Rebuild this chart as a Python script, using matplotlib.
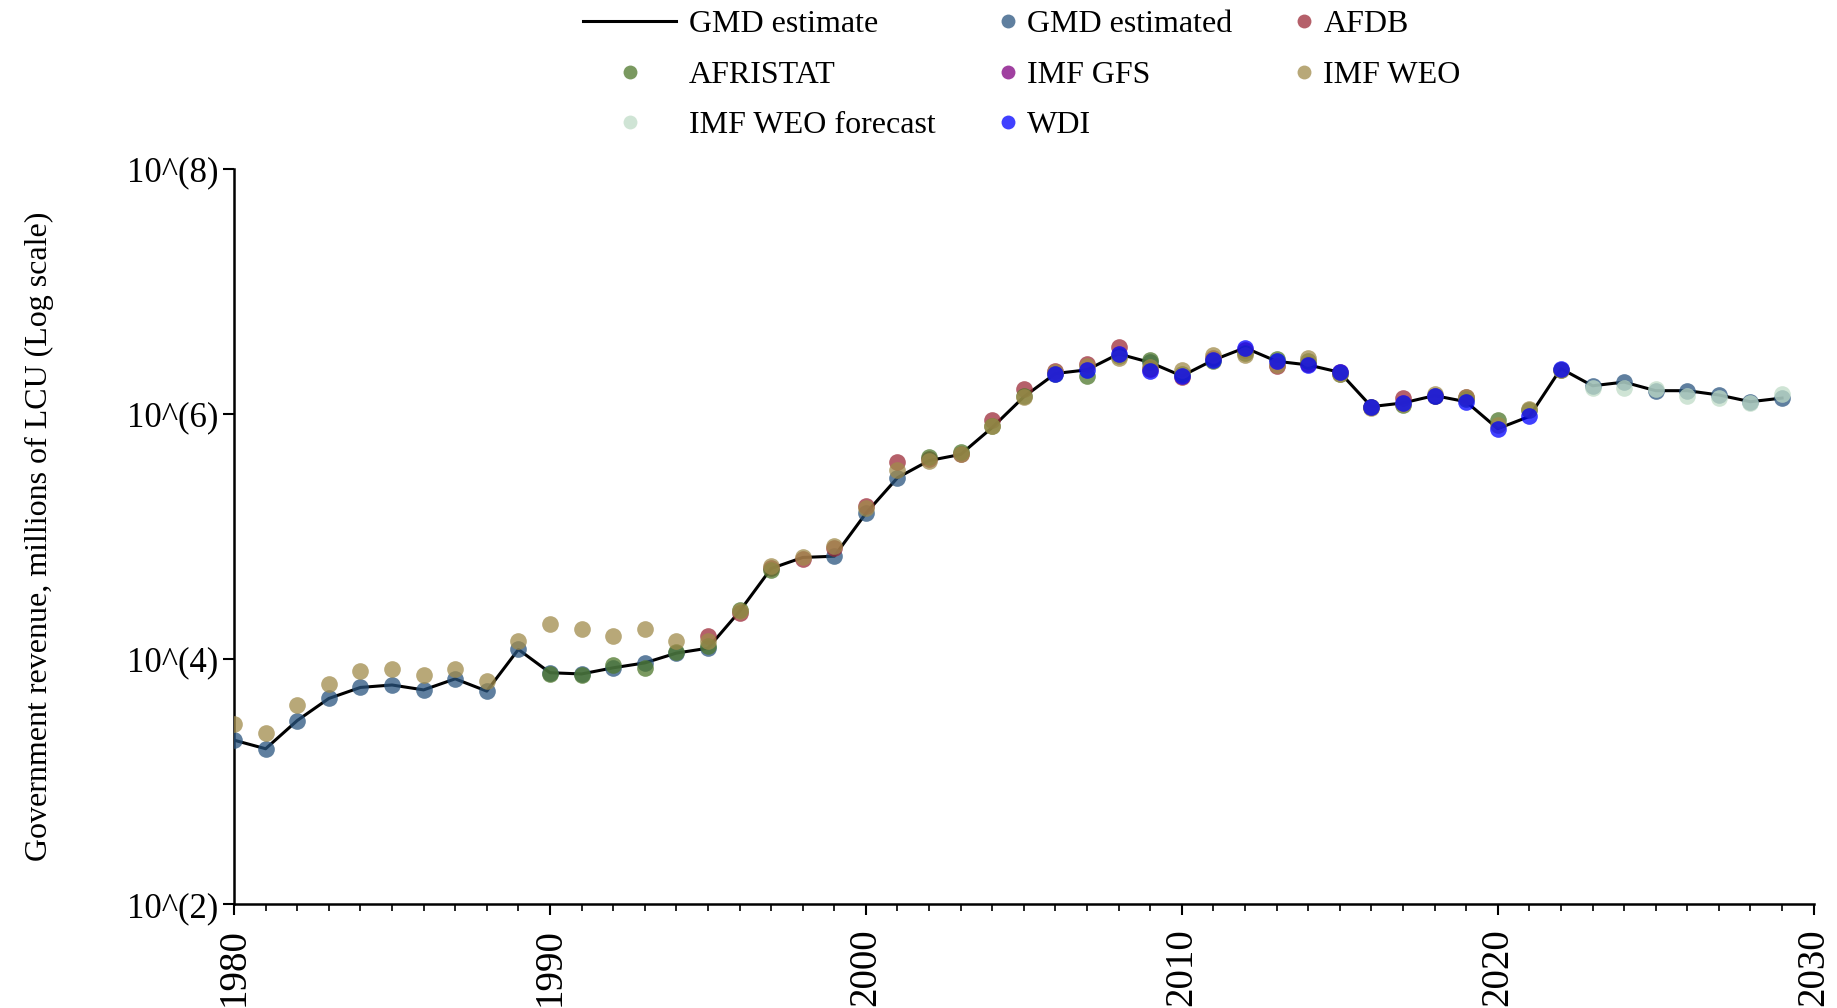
import numpy as np
import matplotlib
matplotlib.use("Agg")
import matplotlib.pyplot as plt

plt.rcParams["font.family"] = ["Liberation Serif", "DejaVu Serif"]

# values are log10 of millions of LCU
gmd_years = list(range(1980, 2030))
gmd_line = [3.34, 3.27, 3.50, 3.68, 3.77, 3.79, 3.75, 3.84, 3.74, 4.08,
            3.89, 3.88, 3.93, 3.97, 4.05, 4.09, 4.39, 4.74, 4.83, 4.84,
            5.19, 5.48, 5.62, 5.67, 5.89, 6.14, 6.33, 6.36, 6.49, 6.42,
            6.31, 6.44, 6.54, 6.43, 6.40, 6.34, 6.06, 6.09, 6.15, 6.10,
            5.88, 5.98, 6.37, 6.23, 6.26, 6.19, 6.19, 6.155, 6.10, 6.13]

est_years = list(range(1980, 1996)) + [1999, 2000, 2001, 2009] + list(range(2023, 2030))
est_vals = [3.34, 3.27, 3.50, 3.68, 3.77, 3.79, 3.75, 3.84, 3.74, 4.08,
            3.89, 3.88, 3.93, 3.97, 4.05, 4.09, 4.84, 5.19, 5.48, 6.42,
            6.23, 6.26, 6.19, 6.19, 6.155, 6.10, 6.13]

afdb_years = list(range(1995, 2020))
afdb_vals = [4.19, 4.38, 4.74, 4.82, 4.91, 5.25, 5.61, 5.63, 5.67, 5.95,
             6.20, 6.35, 6.41, 6.55, 6.37, 6.30, 6.46, 6.52, 6.39, 6.41,
             6.34, 6.06, 6.13, 6.15, 6.14]

afristat_years = list(range(1990, 1998)) + list(range(2002, 2023))
afristat_vals = [3.88, 3.87, 3.95, 3.93, 4.06, 4.11, 4.40, 4.73,
                 5.65, 5.69, 5.90, 6.15, 6.33, 6.31, 6.47, 6.44, 6.33,
                 6.43, 6.50, 6.45, 6.43, 6.33, 6.06, 6.07, 6.15, 6.12,
                 5.95, 6.03, 6.36]

gfs_years = []
gfs_vals = []

weo_years = list(range(1980, 2023))
weo_vals = [3.47, 3.40, 3.63, 3.80, 3.90, 3.92, 3.87, 3.92, 3.82, 4.15,
            4.29, 4.25, 4.19, 4.25, 4.15, 4.15, 4.39, 4.76, 4.83, 4.92,
            5.23, 5.54, 5.62, 5.67, 5.90, 6.14, 6.34, 6.39, 6.46, 6.38,
            6.36, 6.48, 6.48, 6.40, 6.46, 6.33, 6.05, 6.08, 6.16, 6.14,
            5.91, 6.04, 6.36]

forecast_years = list(range(2023, 2030))
forecast_vals = [6.215, 6.215, 6.20, 6.15, 6.13, 6.09, 6.16]

wdi_years = list(range(2006, 2023))
wdi_vals = [6.33, 6.36, 6.49, 6.35, 6.31, 6.44, 6.54, 6.43, 6.40, 6.34,
            6.06, 6.09, 6.15, 6.10, 5.88, 5.98, 6.37]

sources = [
    ("GMD estimated", est_years, est_vals, "#29547F"),
    ("AFDB", afdb_years, afdb_vals, "#9C2B38"),
    ("AFRISTAT", afristat_years, afristat_vals, "#4D772B"),
    ("IMF GFS", gfs_years, gfs_vals, "#800080"),
    ("IMF WEO", weo_years, weo_vals, "#A08B4B"),
    ("IMF WEO forecast", forecast_years, forecast_vals, "#C0DCC7"),
    ("WDI", wdi_years, wdi_vals, "#0000FF"),
]

fig = plt.figure(figsize=(18.37, 10.08), dpi=100)
ax = fig.add_axes([0.1274, 0.1027, 0.8599, 0.7299])

line, = ax.plot(gmd_years, 10.0 ** np.array(gmd_line), color="black", lw=2.2,
                zorder=2, label="GMD estimate")

handles = {"GMD estimate": line}
for name, yrs, vals, col in sources:
    h, = ax.plot(yrs, 10.0 ** np.array(vals, dtype=float), ls="none", marker="o",
                 ms=12, color=col, alpha=0.75, markeredgewidth=0, label=name,
                 zorder=3)
    handles[name] = h

ax.set_yscale("log")
ax.set_ylim(1e2, 1e8)
ax.set_xlim(1980, 2030)
ax.set_yticks([1e2, 1e4, 1e6, 1e8])
ax.set_yticklabels(["10^(2)", "10^(4)", "10^(6)", "10^(8)"])
ax.yaxis.set_minor_locator(matplotlib.ticker.NullLocator())
ax.set_xticks(range(1980, 2031, 10))
ax.set_xticks(range(1980, 2031), minor=True)
ax.tick_params(axis="y", labelsize=25, width=1.5, length=8, direction="out")
ax.tick_params(axis="x", labelsize=28, labelrotation=90, width=1.5, length=8,
               direction="out", pad=9)
ax.tick_params(which="minor", width=1.2, length=5)
for s in ["top", "right"]:
    ax.spines[s].set_visible(False)
for s in ["left", "bottom"]:
    ax.spines[s].set_linewidth(1.8)
ax.set_ylabel("Government revenue, millions of LCU (Log scale)", fontsize=23,
              labelpad=52)

# legend: three columns, each its own legend so handle widths differ
cols = [
    (["GMD estimate", "AFRISTAT", "IMF WEO forecast"], 0.3175, 2.9, 0.4),
    (["GMD estimated", "IMF GFS", "WDI"], 0.5433, 0.6, 0.3),
    (["AFDB", "IMF WEO"], 0.7048, 0.6, 0.3),
]
for names, x0, hl, pad in cols:
    leg = fig.legend([handles[n] for n in names], names, loc="upper left",
                     bbox_to_anchor=(x0, 0.99), frameon=False, fontsize=23,
                     handlelength=hl, handletextpad=pad, labelspacing=0.66,
                     borderpad=0, borderaxespad=0)
    for lh in leg.legend_handles:
        if lh.get_marker() == "o":
            lh.set_markersize(10)

fig.savefig("out.png", dpi=100)
